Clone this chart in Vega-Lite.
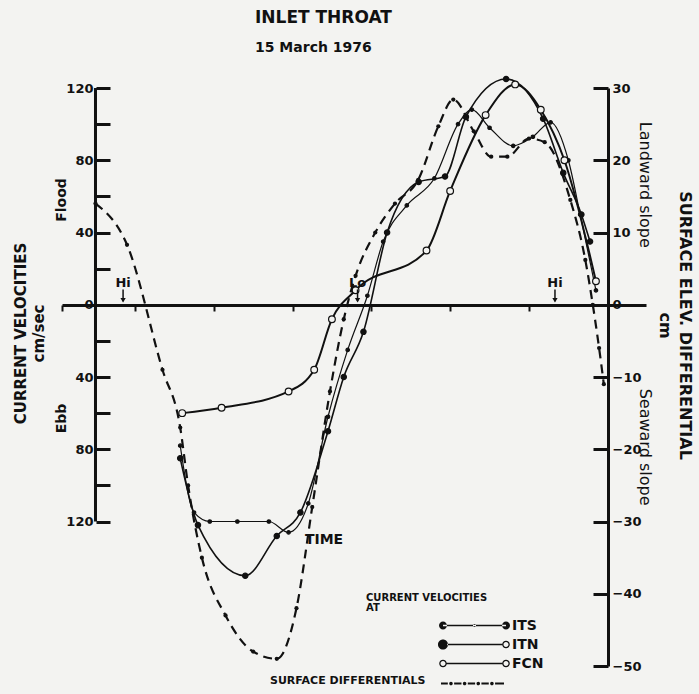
{
  "$schema": "https://vega.github.io/schema/vega-lite/v6.json",
  "width": 584,
  "height": 578,
  "autosize": "none",
  "padding": {"left": 62, "top": 88, "right": 53, "bottom": 28},
  "background": "#f3f3f1",
  "config": {
    "view": {"stroke": null},
    "font": "DejaVu Sans",
    "axis": {"grid": false, "domainColor": "#111", "tickColor": "#111", "labelColor": "#111", "titleColor": "#111", "labelFont": "DejaVu Sans", "labelFontWeight": "bold", "titleFont": "DejaVu Sans", "titleFontWeight": "bold"},
    "legend": {"labelFont": "DejaVu Sans", "titleFont": "DejaVu Sans"}
  },
  "title": {
    "text": "INLET THROAT",
    "subtitle": "15 March 1976",
    "frame": "group",
    "anchor": "start",
    "dx": 193,
    "offset": 18,
    "fontSize": 17,
    "fontWeight": "bold",
    "color": "#111",
    "subtitleFontSize": 14,
    "subtitleFontWeight": "bold",
    "subtitleColor": "#111",
    "subtitlePadding": 14
  },
  "datasets": {
    "velocity": [
      {"series": "ITS", "t": 8.15, "v": -78}, {"series": "ITS", "t": 8.5, "v": -115}, {"series": "ITS", "t": 8.9, "v": -120},
      {"series": "ITS", "t": 9.6, "v": -120}, {"series": "ITS", "t": 10.4, "v": -120}, {"series": "ITS", "t": 10.9, "v": -126},
      {"series": "ITS", "t": 11.4, "v": -110}, {"series": "ITS", "t": 11.9, "v": -62}, {"series": "ITS", "t": 12.4, "v": -25},
      {"series": "ITS", "t": 12.9, "v": 5}, {"series": "ITS", "t": 13.3, "v": 35}, {"series": "ITS", "t": 13.9, "v": 55},
      {"series": "ITS", "t": 14.6, "v": 70}, {"series": "ITS", "t": 15.2, "v": 100}, {"series": "ITS", "t": 15.55, "v": 108},
      {"series": "ITS", "t": 16.0, "v": 98}, {"series": "ITS", "t": 16.6, "v": 88}, {"series": "ITS", "t": 17.1, "v": 93},
      {"series": "ITS", "t": 17.55, "v": 101}, {"series": "ITS", "t": 18.0, "v": 80}, {"series": "ITS", "t": 18.3, "v": 50},
      {"series": "ITS", "t": 18.7, "v": 8},
      {"series": "ITN", "t": 8.15, "v": -85}, {"series": "ITN", "t": 8.6, "v": -122}, {"series": "ITN", "t": 9.8, "v": -150},
      {"series": "ITN", "t": 10.6, "v": -128}, {"series": "ITN", "t": 11.2, "v": -115}, {"series": "ITN", "t": 11.9, "v": -70},
      {"series": "ITN", "t": 12.3, "v": -40}, {"series": "ITN", "t": 12.8, "v": -15}, {"series": "ITN", "t": 13.4, "v": 40},
      {"series": "ITN", "t": 14.2, "v": 68}, {"series": "ITN", "t": 14.87, "v": 71}, {"series": "ITN", "t": 15.4, "v": 104},
      {"series": "ITN", "t": 16.42, "v": 125}, {"series": "ITN", "t": 17.36, "v": 103}, {"series": "ITN", "t": 17.87, "v": 73},
      {"series": "ITN", "t": 18.33, "v": 50}, {"series": "ITN", "t": 18.55, "v": 35},
      {"series": "FCN", "t": 8.2, "v": -60}, {"series": "FCN", "t": 9.2, "v": -57}, {"series": "FCN", "t": 10.9, "v": -48},
      {"series": "FCN", "t": 11.55, "v": -36}, {"series": "FCN", "t": 12.0, "v": -8}, {"series": "FCN", "t": 12.6, "v": 8},
      {"series": "FCN", "t": 14.4, "v": 30}, {"series": "FCN", "t": 15.0, "v": 63}, {"series": "FCN", "t": 15.9, "v": 105},
      {"series": "FCN", "t": 16.65, "v": 122}, {"series": "FCN", "t": 17.3, "v": 108}, {"series": "FCN", "t": 17.9, "v": 80},
      {"series": "FCN", "t": 18.7, "v": 13}
    ],
    "surface": [
      {"series": "SD", "t": 6.0, "cm": 14}, {"series": "SD", "t": 6.8, "cm": 8.3}, {"series": "SD", "t": 7.7, "cm": -9},
      {"series": "SD", "t": 8.15, "cm": -17}, {"series": "SD", "t": 8.35, "cm": -25}, {"series": "SD", "t": 8.7, "cm": -35},
      {"series": "SD", "t": 9.3, "cm": -43}, {"series": "SD", "t": 10.0, "cm": -48}, {"series": "SD", "t": 10.6, "cm": -49},
      {"series": "SD", "t": 11.1, "cm": -42}, {"series": "SD", "t": 11.5, "cm": -28}, {"series": "SD", "t": 11.95, "cm": -12},
      {"series": "SD", "t": 12.3, "cm": -2}, {"series": "SD", "t": 12.6, "cm": 4}, {"series": "SD", "t": 13.1, "cm": 10},
      {"series": "SD", "t": 13.6, "cm": 14}, {"series": "SD", "t": 14.19, "cm": 17.3}, {"series": "SD", "t": 14.7, "cm": 24.7},
      {"series": "SD", "t": 15.08, "cm": 28.4}, {"series": "SD", "t": 15.6, "cm": 24}, {"series": "SD", "t": 16.04, "cm": 20.5},
      {"series": "SD", "t": 16.45, "cm": 20.5}, {"series": "SD", "t": 17.0, "cm": 23}, {"series": "SD", "t": 17.4, "cm": 22.5},
      {"series": "SD", "t": 18.05, "cm": 14.5}, {"series": "SD", "t": 18.43, "cm": 6.2}, {"series": "SD", "t": 18.62, "cm": 0},
      {"series": "SD", "t": 18.78, "cm": -6}, {"series": "SD", "t": 18.9, "cm": -11}
    ],
    "tide": [{"label": "Hi", "t": 6.7}, {"label": "Lo", "t": 12.65}, {"label": "Hi", "t": 17.66}],
    "leftnotes": [{"text": "Flood", "t": 5.16, "v": 58}, {"text": "Ebb", "t": 5.16, "v": -63}],
    "timenote": [{"text": "TIME", "t": 11.8, "v": -130}],
    "rightnotes": [{"text": "Landward slope", "t": 19.94, "cm": 16.6}, {"text": "Seaward slope", "t": 19.94, "cm": -19.7}],
    "leftaxis": [{"t": 6, "lo": -120, "hi": 120}]
  },
  "layer": [
    {
      "data": {"name": "velocity"},
      "layer": [
        {
          "mark": {"type": "line", "interpolate": "monotone", "color": "#111"},
          "encoding": {
            "x": {"field": "t", "type": "quantitative", "scale": {"domain": [5.15, 19.97], "nice": false, "zero": false},
              "axis": {"orient": "bottom", "offset": -361, "values": [5.15, 6, 7, 8, 9, 10, 11, 12, 13, 14, 15, 16, 17, 18, 19, 19.97],
                "labelExpr": "datum.value == 10 ? '1000' : datum.value == 14 ? '1400' : datum.value == 18 ? '1800' : ''",
                "tickSize": 6, "tickWidth": 2, "domainWidth": 3, "labelFontSize": 13, "labelPadding": 3, "title": null}},
            "y": {"field": "v", "type": "quantitative", "scale": {"domain": [-200, 120], "nice": false, "zero": false},
              "axis": {"orient": "left", "offset": -34, "values": [-120, -100, -80, -60, -40, -20, 0, 20, 40, 60, 80, 100, 120],
                "labelExpr": "datum.value % 40 == 0 ? '' + abs(datum.value) : ''", "domain": false,
                "tickSize": -14, "tickWidth": 3, "labelFontSize": 13, "labelPadding": 17,
                "title": ["CURRENT VELOCITIES", "cm/sec"], "titleFontSize": 15, "titleLineHeight": 18, "titleX": -68, "titleY": 245}},
            "detail": {"field": "series"},
            "strokeWidth": {"field": "series", "type": "nominal", "scale": {"domain": ["ITS", "ITN", "FCN"], "range": [1.2, 2, 1.2]}, "legend": null}
          }
        },
        {
          "mark": {"type": "point", "shape": "circle", "stroke": "#111", "strokeWidth": 1.2, "opacity": 1},
          "encoding": {
            "x": {"field": "t", "type": "quantitative"},
            "y": {"field": "v", "type": "quantitative"},
            "size": {"field": "series", "type": "nominal", "scale": {"domain": ["ITS", "ITN", "FCN"], "range": [12, 45, 22]}, "legend": null},
            "fill": {"field": "series", "type": "nominal", "scale": {"domain": ["ITS", "ITN", "FCN"], "range": ["#111", "#111", "#f3f3f1"]}, "legend": null}
          }
        },
        {
          "transform": [{"filter": "false"}],
          "mark": {"type": "point", "filled": true, "color": "#111"},
          "encoding": {
            "x": {"field": "t", "type": "quantitative"},
            "y": {"field": "v", "type": "quantitative"},
            "shape": {"field": "series", "type": "nominal",
              "scale": {"domain": ["ITS", "ITN", "FCN"], "range": [
                "M-3,-0.07L3,-0.07L3,0.07L-3,0.07ZM-3.38,0A0.38,0.38 0 1,0 -2.62,0A0.38,0.38 0 1,0 -3.38,0ZM-0.15,0A0.15,0.15 0 1,0 0.15,0A0.15,0.15 0 1,0 -0.15,0ZM2.62,0A0.38,0.38 0 1,0 3.38,0A0.38,0.38 0 1,0 2.62,0Z",
                "M-3.48,0A0.48,0.48 0 1,0 -2.52,0A0.48,0.48 0 1,0 -3.48,0ZM-2.6,-0.07L2.65,-0.07L2.65,0.07L-2.6,0.07ZM2.64,0A0.36,0.36 0 1,0 3.36,0A0.36,0.36 0 1,0 2.64,0ZM2.76,0A0.24,0.24 0 1,1 3.24,0A0.24,0.24 0 1,1 2.76,0Z",
                "M-3.36,0A0.36,0.36 0 1,0 -2.64,0A0.36,0.36 0 1,0 -3.36,0ZM-3.24,0A0.24,0.24 0 1,1 -2.76,0A0.24,0.24 0 1,1 -3.24,0ZM-2.65,-0.07L2.65,-0.07L2.65,0.07L-2.65,0.07ZM2.64,0A0.36,0.36 0 1,0 3.36,0A0.36,0.36 0 1,0 2.64,0ZM2.76,0A0.24,0.24 0 1,1 3.24,0A0.24,0.24 0 1,1 2.76,0Z"
              ]},
              "legend": {"orient": "none", "legendX": 304, "legendY": 505, "title": ["CURRENT VELOCITIES", "AT"],
                "titleFontSize": 10, "titleFontWeight": "bold", "titleLineHeight": 10, "titlePadding": 2, "titleColor": "#111",
                "labelFontSize": 14, "labelFontWeight": "bold", "labelColor": "#111", "labelOffset": 27,
                "symbolSize": 441, "symbolOffset": 98, "rowPadding": 1, "padding": 0,
                "symbolFillColor": "#111", "symbolStrokeWidth": 0, "symbolOpacity": 1}}
          }
        },
        {
          "data": {"name": "leftaxis"},
          "mark": {"type": "rule", "strokeWidth": 3, "color": "#111"},
          "encoding": {"x": {"field": "t", "type": "quantitative"}, "y": {"field": "lo", "type": "quantitative"}, "y2": {"field": "hi"}}
        },
        {
          "data": {"name": "leftnotes"},
          "mark": {"type": "text", "angle": 270, "fontSize": 14, "fontWeight": "bold", "color": "#111"},
          "encoding": {"x": {"field": "t", "type": "quantitative"}, "y": {"field": "v", "type": "quantitative"}, "text": {"field": "text"}}
        },
        {
          "data": {"name": "timenote"},
          "mark": {"type": "text", "fontSize": 14, "fontWeight": "bold", "color": "#111"},
          "encoding": {"x": {"field": "t", "type": "quantitative"}, "y": {"field": "v", "type": "quantitative"}, "text": {"field": "text"}}
        },
        {
          "data": {"name": "tide"},
          "mark": {"type": "text", "fontSize": 13, "fontWeight": "bold", "baseline": "alphabetic", "color": "#111"},
          "encoding": {"x": {"field": "t", "type": "quantitative"}, "y": {"datum": 10}, "text": {"field": "label"}}
        },
        {
          "data": {"name": "tide"},
          "mark": {"type": "rule", "strokeWidth": 1.5, "color": "#111"},
          "encoding": {"x": {"field": "t", "type": "quantitative"}, "y": {"datum": 2}, "y2": {"datum": 8.5}}
        },
        {
          "data": {"name": "tide"},
          "mark": {"type": "point", "shape": "triangle-down", "size": 28, "filled": true, "color": "#111", "opacity": 1},
          "encoding": {"x": {"field": "t", "type": "quantitative"}, "y": {"datum": 2.5}}
        }
      ]
    },
    {
      "data": {"name": "surface"},
      "layer": [
        {
          "mark": {"type": "line", "interpolate": "monotone", "strokeDash": [9, 6], "strokeWidth": 2.2, "color": "#111"},
          "encoding": {
            "x": {"field": "t", "type": "quantitative"},
            "y": {"field": "cm", "type": "quantitative", "scale": {"domain": [-50, 30], "nice": false, "zero": false},
              "axis": {"orient": "right", "offset": -38, "values": [-50, -45, -40, -35, -30, -25, -20, -15, -10, -5, 0, 5, 10, 15, 20, 25, 30],
                "labelExpr": "datum.value % 10 == 0 ? datum.label : ''", "domainWidth": 3,
                "tickSize": -15, "tickWidth": 3, "labelFontSize": 13, "labelPadding": 19,
                "title": ["SURFACE ELEV. DIFFERENTIAL", "cm"], "titleAngle": 90, "titleFontSize": 16, "titleLineHeight": 20, "titleX": 68, "titleY": 237}}
          }
        },
        {
          "mark": {"type": "circle", "size": 18, "color": "#111", "opacity": 1},
          "encoding": {"x": {"field": "t", "type": "quantitative"}, "y": {"field": "cm", "type": "quantitative"}}
        },
        {
          "transform": [{"filter": "false"}],
          "mark": {"type": "point", "filled": true, "color": "#111"},
          "encoding": {
            "x": {"field": "t", "type": "quantitative"},
            "y": {"field": "cm", "type": "quantitative"},
            "shape": {"field": "series", "type": "nominal",
              "scale": {"domain": ["SD"], "range": [
                "M-3,-0.1L-2.35,-0.1L-2.35,0.1L-3,0.1ZM-1.75,-0.1L-1.05,-0.1L-1.05,0.1L-1.75,0.1ZM-0.45,-0.1L0.25,-0.1L0.25,0.1L-0.45,0.1ZM0.85,-0.1L1.55,-0.1L1.55,0.1L0.85,0.1ZM2.15,-0.1L3,-0.1L3,0.1L2.15,0.1ZM-2.22,0A0.17,0.17 0 1,0 -1.88,0A0.17,0.17 0 1,0 -2.22,0ZM-0.92,0A0.17,0.17 0 1,0 -0.58,0A0.17,0.17 0 1,0 -0.92,0ZM0.38,0A0.17,0.17 0 1,0 0.72,0A0.17,0.17 0 1,0 0.38,0ZM1.68,0A0.17,0.17 0 1,0 2.02,0A0.17,0.17 0 1,0 1.68,0Z"
              ]},
              "legend": {"orient": "none", "legendX": 208, "legendY": 585, "title": "SURFACE DIFFERENTIALS", "titleOrient": "left",
                "titleFontSize": 11, "titleFontWeight": "bold", "titleColor": "#111", "titlePadding": 5, "titleBaseline": "middle",
                "labelExpr": "''", "symbolSize": 441, "symbolOffset": 31, "padding": 0,
                "symbolFillColor": "#111", "symbolStrokeWidth": 0, "symbolOpacity": 1}}
          }
        },
        {
          "data": {"name": "rightnotes"},
          "mark": {"type": "text", "angle": 90, "fontSize": 16, "color": "#111"},
          "encoding": {"x": {"field": "t", "type": "quantitative"}, "y": {"field": "cm", "type": "quantitative"}, "text": {"field": "text"}}
        }
      ]
    }
  ],
  "resolve": {"scale": {"y": "independent", "shape": "independent"}, "legend": {"shape": "independent"}}
}
